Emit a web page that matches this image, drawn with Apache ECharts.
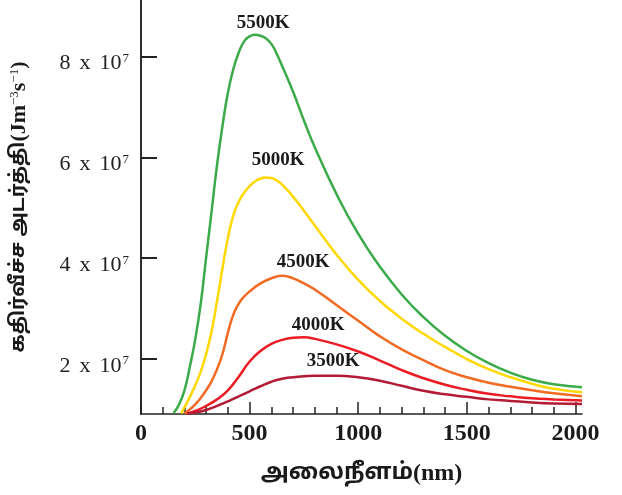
<!DOCTYPE html>
<html>
<head>
<meta charset="utf-8">
<script src="https://cdn.jsdelivr.net/npm/echarts@6/dist/echarts.min.js"></script>
<style>
html,body{margin:0;padding:0;background:#fff;}
#chart{width:622px;height:495px;}
</style>
</head>
<body>
<div id="chart"></div>
<script>
// wavelength (nm), spectral radiance in units of 1e7 J m^-3 s^-1
var green5500 = [[150,0.93],[175,1.10],[200,1.38],[225,1.85],[250,2.40],[275,3.10],[300,4.02],[325,4.93],[350,5.85],[375,6.62],[400,7.28],[425,7.75],[450,8.08],[475,8.30],[500,8.40],[525,8.43],[550,8.41],[575,8.36],[600,8.25],[625,8.05],[650,7.81],[700,7.30],[750,6.73],[800,6.20],[900,5.27],[1000,4.48],[1100,3.83],[1200,3.28],[1300,2.83],[1400,2.46],[1500,2.16],[1600,1.92],[1700,1.73],[1800,1.59],[1900,1.50],[2030,1.44]];
var yellow5000 = [[185,0.92],[200,1.04],[225,1.25],[250,1.48],[275,1.75],[300,2.10],[325,2.55],[350,3.15],[375,3.80],[400,4.40],[425,4.85],[450,5.12],[475,5.30],[500,5.43],[525,5.52],[550,5.58],[575,5.60],[600,5.59],[625,5.54],[650,5.46],[700,5.22],[750,4.94],[800,4.65],[900,4.07],[1000,3.57],[1100,3.15],[1200,2.80],[1300,2.50],[1400,2.24],[1500,2.00],[1600,1.80],[1700,1.64],[1800,1.51],[1900,1.41],[2030,1.34]];
var orange4500 = [[200,0.92],[250,1.10],[300,1.38],[325,1.56],[350,1.80],[375,2.10],[400,2.52],[425,2.88],[450,3.10],[475,3.24],[500,3.34],[550,3.50],[600,3.60],[650,3.65],[700,3.60],[750,3.50],[800,3.38],[900,3.07],[1000,2.76],[1100,2.45],[1200,2.19],[1300,1.98],[1400,1.78],[1500,1.64],[1600,1.53],[1700,1.45],[1800,1.38],[1900,1.32],[2030,1.26]];
var red4000 = [[210,0.92],[250,0.97],[300,1.07],[350,1.20],[400,1.38],[450,1.65],[500,1.95],[550,2.16],[600,2.30],[650,2.38],[700,2.42],[750,2.43],[800,2.40],[900,2.29],[1000,2.15],[1100,1.97],[1200,1.78],[1300,1.62],[1400,1.49],[1500,1.39],[1600,1.31],[1700,1.26],[1800,1.22],[1900,1.20],[2030,1.18]];
var darkred3500 = [[215,0.92],[250,0.94],[300,0.99],[350,1.07],[400,1.16],[450,1.26],[500,1.36],[550,1.46],[600,1.55],[650,1.61],[700,1.64],[750,1.66],[800,1.67],[900,1.67],[1000,1.64],[1100,1.57],[1200,1.47],[1300,1.37],[1400,1.30],[1500,1.25],[1600,1.20],[1700,1.17],[1800,1.14],[1900,1.12],[2030,1.11]];

var curveNames = ['5500K','5000K','4500K','4000K','3500K'];
var curveColors = ['#3bab4a','#ffd800','#f26a22','#ec1c24','#b31b34'];
var labelX = [562, 631, 746, 815, 885];
var labelY = [8.66, 5.95, 3.93, 2.68, 1.95];

var xMajorTicks = [0,500,1000,1500,2000];
var xMinorTicks = [100,200,300,400,600,700,800,900,1100,1200,1300,1400,1600,1700,1800,1900];
var yTicks = [2,4,6,8];

var chart = echarts.init(document.getElementById('chart'));
var allData = [green5500, yellow5000, orange4500, red4000, darkred3500];
var series = allData.map(function(d, i){
  return {
    type:'line', name: curveNames[i], data: d, smooth: 0.5, showSymbol:false,
    lineStyle:{color: curveColors[i], width:2.5}, itemStyle:{color: curveColors[i]},
    clip: true, z: 2
  };
});
series.push({
  type:'scatter', symbolSize:0, itemStyle:{opacity:1},
  data: curveNames.map(function(n,i){ return {name:n, value:[labelX[i], labelY[i]]}; }),
  label:{show:true, position:'inside', opacity:1, formatter:function(p){return p.name;},
    fontFamily:'Liberation Serif', fontWeight:'bold', fontSize:19, color:'#1a1a1a'},
  z: 3
});

var serif = 'Liberation Serif';
var tamil = '"Noto Sans Tamil","Lohit Tamil","Noto Sans",sans-serif';

chart.setOption({
  animation:false,
  backgroundColor:'#fff',
  grid:{left:141, right:40, top:0, bottom:81, containLabel:false},
  xAxis:[{
    type:'value', min:0, max:2030,
    axisLine:{show:true, lineStyle:{color:'#222', width:1.5}},
    axisTick:{show:true, inside:true, length:12, customValues: xMajorTicks, lineStyle:{color:'#222', width:1.5}},
    axisLabel:{show:true, customValues: xMajorTicks, margin:8, fontFamily:serif, fontWeight:'bold', fontSize:24, color:'#1a1a1a',
      formatter:function(v){ return String(v); }},
    splitLine:{show:false},
    name:'{t|அலைநீளம்}{s|(nm)}', nameLocation:'middle', nameGap:48,
    nameTextStyle:{rich:{
      t:{fontFamily:tamil, fontWeight:'bold', fontSize:23, color:'#1a1a1a'},
      s:{fontFamily:serif, fontWeight:'bold', fontSize:24, color:'#1a1a1a'}
    }}
  },{
    type:'value', min:0, max:2030, position:'bottom',
    axisLine:{show:false},
    axisTick:{show:true, inside:true, length:7, customValues: xMinorTicks, lineStyle:{color:'#222', width:1.5}},
    axisLabel:{show:false},
    splitLine:{show:false}
  }],
  yAxis:[{
    type:'value', min:0.91, max:9.12,
    axisLine:{show:true, lineStyle:{color:'#222', width:1.5}},
    axisTick:{show:true, inside:true, length:16, customValues: yTicks, lineStyle:{color:'#222', width:2}},
    axisLabel:{show:true, customValues: yTicks, margin:12, padding:[14,0,0,0],
      formatter:function(v){ return '{b|' + Math.round(v) + '}{x|x}{b|10}{sup|7}'; },
      rich:{
        b:{fontFamily:serif, fontSize:22, color:'#222'},
        x:{fontFamily:serif, fontSize:22, color:'#222', padding:[0,9,0,9]},
        sup:{fontFamily:serif, fontSize:13, color:'#222', verticalAlign:'top', padding:[0,0,10,1]}
      }},
    splitLine:{show:false},
    name:'{t|கதிர்வீச்ச அடர்த்தி}{s|(Jm}{p|−3}{s|s}{p|−1}{s|)}', nameLocation:'middle', nameGap:110,
    nameTextStyle:{rich:{
      t:{fontFamily:tamil, fontWeight:'bold', fontSize:20, color:'#1a1a1a'},
      s:{fontFamily:serif, fontWeight:'bold', fontSize:22, color:'#1a1a1a'},
      p:{fontFamily:serif, fontSize:13, color:'#1a1a1a', verticalAlign:'top', padding:[0,0,10,0]}
    }}
  },{
    type:'value', min:0.91, max:9.12, position:'right',
    axisLine:{show:true, lineStyle:{color:'#222', width:1.5}},
    axisTick:{show:false}, axisLabel:{show:false}, splitLine:{show:false}
  }],
  series: series
});
</script>
</body>
</html>
